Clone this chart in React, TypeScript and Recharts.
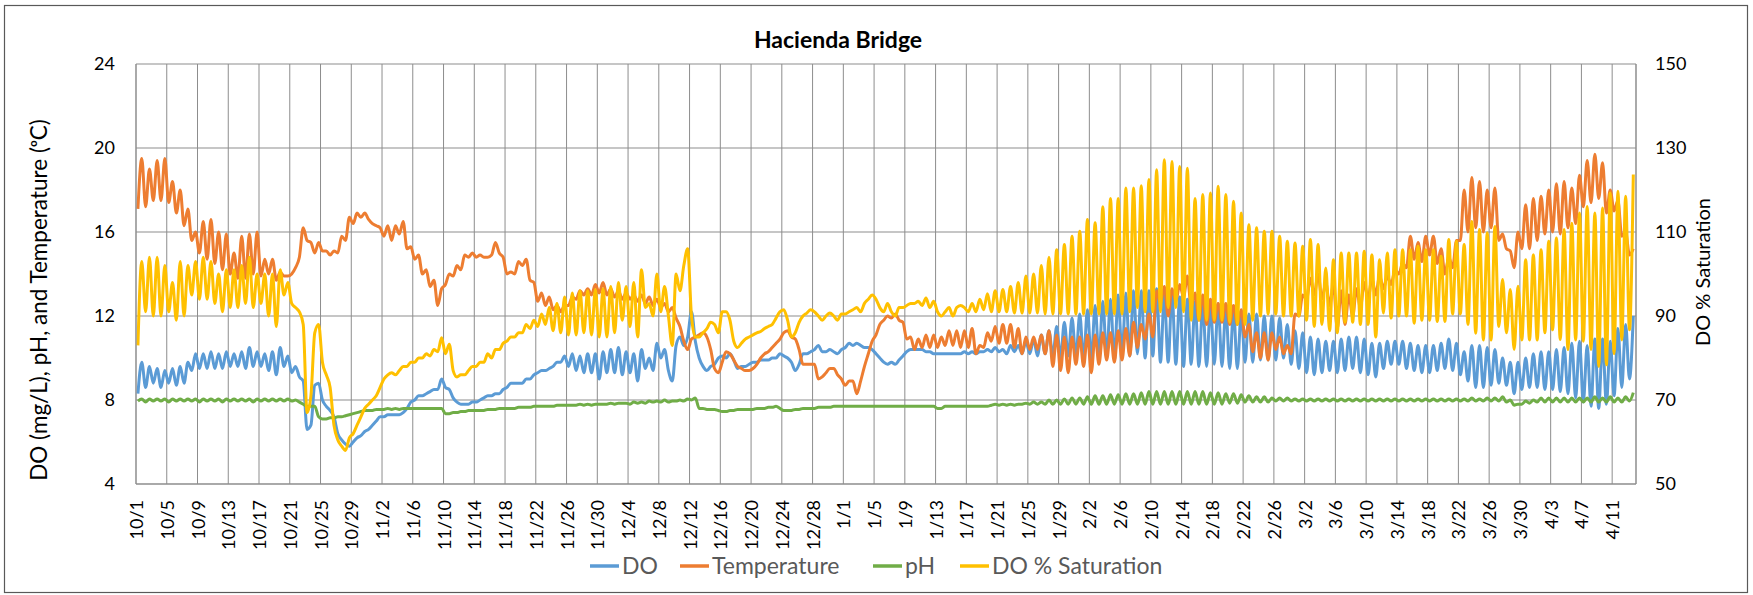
import { LineChart, Line, XAxis, YAxis, CartesianGrid } from 'recharts';

// x-axis category labels, one every 4 days starting 10/1
const xLabels = [
  '10/1', '10/5', '10/9', '10/13', '10/17', '10/21', '10/25', '10/29', '11/2', '11/6',
  '11/10', '11/14', '11/18', '11/22', '11/26', '11/30', '12/4', '12/8', '12/12', '12/16',
  '12/20', '12/24', '12/28', '1/1', '1/5', '1/9', '1/13', '1/17', '1/21', '1/25',
  '1/29', '2/2', '2/6', '2/10', '2/14', '2/18', '2/22', '2/26', '3/2', '3/6',
  '3/10', '3/14', '3/18', '3/22', '3/26', '3/30', '4/3', '4/7', '4/11',
];
const leftTicks = [4, 8, 12, 16, 20, 24];
const rightTicks = [50, 70, 90, 110, 130, 150];

// daily readings, morning (AM) and afternoon (PM)
const doAM = [
  8.3, 8.6, 8.8, 8.6, 8.8, 8.7, 8.8, 9.4, 9.5, 9.5,
  9.5, 9.5, 9.6, 9.6, 9.5, 9.6, 9.6, 9.4, 9.2, 9.6,
  9.3, 9.1, 6.6, 8.7, 8.0, 7.5, 6.4, 5.9, 6.0, 6.3,
  6.6, 7.0, 7.2, 7.3, 7.3, 7.6, 8.0, 8.2, 8.4, 8.5,
  8.6, 8.1, 7.8, 7.8, 7.9, 8.1, 8.2, 8.3, 8.6, 8.8,
  8.8, 9.0, 9.3, 9.4, 9.6, 9.8, 9.6, 9.4, 9.3, 9.3,
  9.0, 9.3, 9.3, 9.2, 9.3, 8.9, 9.5, 9.4, 10.0, 9.4,
  10.6, 10.6, 12.2, 10.0, 9.4, 9.7, 10.1, 10.2, 9.5, 9.6,
  9.8, 9.9, 9.9, 10.0, 10.1, 9.8, 9.7, 10.2, 10.4, 10.3,
  10.4, 10.2, 10.5, 10.6, 10.6, 10.5, 10.2, 9.8, 9.8, 9.9,
  10.3, 10.4, 10.4, 10.3, 10.2, 10.2, 10.2, 10.2, 10.2, 10.2,
  10.3, 10.3, 10.3, 10.2, 10.3, 10.2, 10.2, 10.1, 10.2, 10.1,
  10.0, 10.1, 10.0, 9.9, 9.9, 10.0, 10.0, 9.9, 10.1, 10.1,
  10.2, 10.0, 10.1, 9.8, 9.8, 9.7, 9.6, 9.7, 9.6, 9.6,
  9.7, 9.6, 9.5, 9.5, 9.8, 9.8, 9.9, 9.9, 9.9, 10.0,
  9.7, 9.5, 9.3, 9.2, 9.3, 9.4, 9.3, 9.4, 9.5, 9.3,
  9.2, 9.1, 9.5, 9.7, 9.7, 9.5, 9.4, 9.3, 9.3, 9.4,
  9.5, 9.4, 9.2, 8.9, 8.6, 8.6, 8.7, 8.8, 8.7, 8.3,
  8.5, 8.6, 8.6, 8.5, 8.5, 8.4, 8.3, 8.1, 7.9, 7.7,
  7.6, 7.8, 8.2, 8.6, 9.0,
];
const doPM = [
  9.8, 9.6, 9.5, 9.4, 9.5, 9.6, 9.8, 10.2, 10.2, 10.3,
  10.2, 10.3, 10.2, 10.3, 10.5, 10.3, 10.2, 10.3, 10.5, 10.1,
  9.6, 8.9, 6.8, 8.8, 7.7, 7.2, 6.1, 5.8, 6.2, 6.5,
  6.8, 7.2, 7.3, 7.3, 7.4, 7.9, 8.2, 8.3, 8.5, 9.0,
  8.5, 7.9, 7.8, 7.9, 8.0, 8.2, 8.3, 8.5, 8.8, 8.8,
  9.0, 9.2, 9.4, 9.5, 9.8, 10.1, 10.2, 10.1, 10.2, 10.2,
  10.3, 10.4, 10.5, 10.3, 10.2, 10.4, 10.0, 10.7, 10.4, 8.9,
  11.0, 11.0, 10.8, 9.6, 9.6, 10.0, 10.0, 9.9, 9.6, 9.7,
  9.8, 9.9, 10.0, 10.2, 10.0, 9.4, 10.2, 10.3, 10.6, 10.3,
  10.3, 10.4, 10.7, 10.7, 10.5, 10.4, 10.0, 9.7, 9.7, 10.1,
  10.4, 10.4, 10.3, 10.2, 10.2, 10.2, 10.2, 10.3, 10.3, 10.3,
  10.4, 10.5, 10.4, 10.6, 10.6, 10.8, 10.9, 11.1, 11.3, 11.5,
  11.7, 11.9, 12.1, 12.3, 12.5, 12.7, 12.8, 13.0, 13.1, 13.2,
  13.2, 13.2, 13.3, 13.0, 13.1, 12.9, 12.8, 12.7, 12.6, 12.5,
  12.6, 12.4, 12.3, 12.2, 12.1, 12.1, 12.0, 12.0, 11.9, 11.6,
  11.3, 11.2, 11.0, 10.9, 10.8, 10.8, 10.9, 11.0, 11.0, 10.9,
  10.7, 10.7, 10.8, 10.8, 10.8, 10.7, 10.6, 10.6, 10.6, 10.7,
  10.9, 10.7, 10.3, 10.6, 10.6, 10.5, 10.4, 10.0, 9.8, 9.8,
  10.0, 10.2, 10.3, 10.3, 10.4, 10.5, 10.7, 10.8, 10.6, 10.9,
  10.9, 10.8, 11.4, 11.6, 12.0,
];
const tempAM = [
  17.1, 17.2, 17.5, 17.5, 17.4, 16.9, 16.3, 15.6, 15.0, 14.7,
  14.5, 14.2, 14.0, 13.8, 13.8, 14.0, 13.9, 14.0, 13.7, 13.9,
  14.0, 14.8, 15.6, 15.0, 15.1, 14.9, 15.0, 15.6, 16.4, 16.7,
  16.6, 16.3, 15.8, 15.6, 15.9, 15.2, 14.7, 14.0, 13.4, 12.5,
  13.5, 13.9, 14.2, 14.8, 14.8, 14.8, 14.9, 15.0, 14.0, 14.0,
  14.4, 13.7, 12.7, 12.5, 12.3, 12.2, 12.5, 12.8, 13.0, 13.0,
  13.1, 13.0, 12.9, 12.8, 12.8, 12.7, 12.6, 12.5, 12.4, 12.2,
  11.9, 10.8, 10.9, 11.1, 11.0, 9.5, 9.8, 10.2, 9.6, 9.4,
  9.5, 10.0, 10.3, 10.7, 11.2, 11.0, 10.4, 9.7, 9.7, 9.1,
  9.5, 9.2, 8.7, 8.9, 8.9, 10.2, 11.1, 11.8, 11.9, 11.8,
  10.9, 10.4, 10.5, 10.5, 10.5, 10.6, 10.6, 10.5, 10.5, 10.2,
  10.5, 10.8, 10.7, 10.7, 10.5, 10.2, 10.4, 10.4, 10.2, 9.6,
  9.4, 9.3, 9.7, 9.6, 9.3, 9.7, 9.9, 9.8, 9.9, 10.1,
  10.5, 10.9, 11.0, 12.6, 12.0, 12.7, 12.9, 12.4, 11.8, 11.6,
  11.7, 11.7, 11.6, 11.6, 11.0, 10.3, 10.0, 9.9, 10.4, 10.2,
  10.2, 12.0, 12.8, 13.0, 12.8, 12.5, 11.4, 11.6, 12.0, 12.4,
  12.8, 13.0, 13.3, 13.5, 14.0, 14.3, 14.7, 14.6, 14.9, 14.5,
  14.0, 14.3, 15.6, 16.0, 16.2, 16.0, 16.2, 15.6, 15.2, 14.3,
  15.2, 15.2, 15.6, 15.9, 16.0, 15.9, 16.2, 16.4, 17.2, 17.4,
  17.6, 16.9, 17.0, 15.8, 14.9,
];
const tempPM = [
  19.5, 19.0, 19.4, 19.5, 18.4, 18.0, 17.1, 16.0, 16.5, 16.6,
  16.0, 15.9, 15.0, 15.8, 15.9, 16.0, 14.7, 14.7, 14.1, 13.9,
  14.3, 16.2, 15.5, 15.5, 15.1, 15.1, 15.8, 16.7, 16.9, 16.9,
  16.4, 16.2, 16.3, 16.3, 16.5, 15.3, 14.9, 14.2, 13.7, 13.3,
  14.0, 14.4, 14.9, 15.0, 14.9, 14.8, 15.5, 14.8, 14.1, 14.6,
  14.7, 13.6, 13.1, 12.9, 12.5, 12.5, 12.9, 13.2, 13.3, 13.5,
  13.6, 13.3, 13.2, 13.1, 13.0, 13.0, 12.9, 12.8, 12.6, 12.4,
  11.5, 10.4, 11.0, 11.2, 10.4, 9.3, 10.3, 9.9, 9.5, 9.4,
  9.7, 10.2, 10.5, 10.9, 11.3, 10.9, 9.7, 9.7, 9.0, 9.3,
  9.5, 9.0, 8.9, 8.3, 9.6, 10.8, 11.6, 12.0, 12.1, 11.7,
  11.0, 10.9, 11.1, 11.1, 11.0, 11.3, 11.3, 11.3, 11.4, 10.6,
  11.2, 11.5, 11.6, 11.6, 11.4, 11.0, 11.0, 11.1, 11.3, 11.1,
  11.0, 11.0, 11.0, 11.1, 11.1, 11.2, 11.2, 11.3, 11.4, 11.7,
  11.6, 12.1, 13.2, 13.4, 13.3, 13.5, 13.9, 13.1, 13.0, 12.8,
  12.6, 12.6, 12.5, 12.3, 11.6, 11.2, 11.2, 11.2, 11.0, 10.6,
  12.1, 13.0, 13.8, 14.0, 13.6, 13.5, 13.2, 13.0, 13.3, 13.6,
  13.8, 13.9, 13.9, 14.2, 14.5, 15.8, 15.5, 15.8, 15.8, 15.2,
  14.8, 15.6, 18.0, 18.6, 18.4, 18.0, 18.1, 15.9, 15.1, 16.0,
  17.3, 17.6, 17.7, 18.0, 18.3, 18.4, 18.1, 18.7, 19.4, 19.7,
  19.3, 18.0, 17.5, 16.0, 15.2,
];
const phAM = [
  7.95, 7.9, 7.95, 7.95, 7.9, 7.95, 7.95, 7.95, 7.9, 7.95,
  7.95, 7.9, 7.95, 7.95, 7.95, 7.9, 7.95, 7.95, 7.95, 7.95,
  7.95, 7.9, 7.7, 7.7, 7.1, 7.15, 7.2, 7.25, 7.35, 7.45,
  7.5, 7.55, 7.55, 7.55, 7.55, 7.6, 7.6, 7.6, 7.6, 7.6,
  7.35, 7.4, 7.45, 7.5, 7.5, 7.5, 7.55, 7.6, 7.6, 7.6,
  7.65, 7.65, 7.7, 7.7, 7.7, 7.75, 7.75, 7.75, 7.75, 7.75,
  7.8, 7.8, 7.8, 7.85, 7.8, 7.85, 7.85, 7.9, 7.9, 7.9,
  7.95, 7.95, 8.0, 7.6, 7.55, 7.55, 7.45, 7.5, 7.55, 7.55,
  7.55, 7.6, 7.65, 7.7, 7.5, 7.5, 7.55, 7.6, 7.6, 7.65,
  7.65, 7.7, 7.7, 7.7, 7.7, 7.7, 7.7, 7.7, 7.7, 7.7,
  7.7, 7.7, 7.7, 7.7, 7.6, 7.7, 7.7, 7.7, 7.7, 7.7,
  7.7, 7.75, 7.75, 7.75, 7.75, 7.8, 7.8, 7.8, 7.8, 7.8,
  7.8, 7.8, 7.8, 7.8, 7.8, 7.8, 7.8, 7.8, 7.8, 7.8,
  7.8, 7.8, 7.8, 7.8, 7.8, 7.8, 7.8, 7.8, 7.8, 7.8,
  7.8, 7.8, 7.85, 7.85, 7.9, 7.9, 7.9, 7.9, 7.95, 7.95,
  7.95, 7.95, 7.95, 7.95, 7.95, 7.95, 7.95, 7.95, 7.95, 7.95,
  7.95, 7.95, 7.95, 7.95, 7.95, 7.95, 7.95, 7.95, 7.95, 7.95,
  7.95, 7.95, 7.95, 7.95, 7.95, 7.95, 7.95, 7.95, 7.9, 7.75,
  7.8, 7.85, 7.9, 7.9, 7.9, 7.9, 7.9, 7.9, 7.9, 7.9,
  7.9, 7.9, 7.9, 7.9, 7.95,
];
const phPM = [
  8.05, 8.05, 8.05, 8.05, 8.05, 8.05, 8.05, 8.05, 8.05, 8.05,
  8.05, 8.05, 8.05, 8.05, 8.05, 8.05, 8.05, 8.05, 8.05, 8.05,
  8.0, 7.8, 7.7, 7.2, 7.1, 7.15, 7.2, 7.3, 7.4, 7.5,
  7.5, 7.55, 7.6, 7.6, 7.6, 7.6, 7.6, 7.6, 7.6, 7.6,
  7.35, 7.4, 7.45, 7.5, 7.5, 7.55, 7.55, 7.6, 7.6, 7.65,
  7.65, 7.7, 7.7, 7.7, 7.75, 7.75, 7.75, 7.8, 7.8, 7.8,
  7.8, 7.85, 7.85, 7.85, 7.9, 7.9, 7.95, 7.95, 8.0, 7.95,
  8.0, 8.05, 8.1, 7.6, 7.55, 7.5, 7.45, 7.5, 7.55, 7.55,
  7.6, 7.6, 7.65, 7.6, 7.5, 7.55, 7.6, 7.6, 7.65, 7.65,
  7.7, 7.7, 7.7, 7.7, 7.7, 7.7, 7.7, 7.7, 7.7, 7.7,
  7.7, 7.7, 7.7, 7.7, 7.6, 7.7, 7.7, 7.7, 7.7, 7.7,
  7.7, 7.8, 7.8, 7.8, 7.8, 7.85, 7.9, 7.9, 8.0, 8.0,
  8.05, 8.1, 8.1, 8.15, 8.2, 8.2, 8.25, 8.25, 8.3, 8.3,
  8.35, 8.4, 8.4, 8.4, 8.4, 8.4, 8.4, 8.4, 8.4, 8.35,
  8.35, 8.3, 8.3, 8.25, 8.2, 8.15, 8.15, 8.1, 8.1, 8.1,
  8.05, 8.05, 8.05, 8.05, 8.05, 8.05, 8.05, 8.05, 8.05, 8.05,
  8.05, 8.05, 8.05, 8.05, 8.05, 8.05, 8.05, 8.05, 8.05, 8.05,
  8.05, 8.05, 8.05, 8.1, 8.05, 8.1, 8.1, 8.15, 8.0, 7.8,
  7.95, 8.0, 8.1, 8.1, 8.1, 8.1, 8.1, 8.1, 8.1, 8.15,
  8.1, 8.15, 8.1, 8.15, 8.35,
];
const satAM = [
  83, 91, 90, 90, 91, 89, 90, 95, 94, 94,
  93, 91, 92, 92, 93, 92, 93, 90, 87.5, 95,
  93, 91, 67, 86, 79, 73, 60.5, 58, 62, 66,
  69, 71, 75, 76.5, 77, 78, 79, 80, 80.5, 81.5,
  81, 77, 76, 77, 78, 79, 80, 82, 84, 85,
  86, 87, 87.5, 88, 86.5, 86, 85.5, 85.5, 86, 85.5,
  85, 85, 86, 89, 87.5, 85, 92, 90, 91, 90,
  100, 102, 90, 85, 87, 88, 91, 89, 82.5, 84.5,
  85.5, 86.3, 87.5, 89.5, 91.5, 85, 88.5, 90.7, 91, 89,
  90.7, 89, 90.5, 91.5, 91, 94, 94, 91, 91, 92,
  92.5, 93, 92.5, 92, 91, 91, 90, 92.5, 91, 91,
  91.5, 91, 91, 91, 90.7, 90.7, 90.7, 90.7, 90.5, 90.5,
  90.5, 90.5, 90.5, 90.5, 90.5, 90.5, 90.5, 90.5, 90.5, 91,
  92, 91, 91, 91, 92, 92, 91, 89, 89, 89,
  89, 89, 88.5, 88, 88, 89, 90, 90.5, 90.5, 90,
  90, 90, 89, 87.5, 88, 86.5, 86, 88.5, 88.5, 88,
  88, 85, 90.7, 89.5, 90, 90, 88.3, 89, 89, 88.7,
  88.7, 90.5, 90.5, 88, 85.9, 84.3, 84.3, 87.5, 86, 82,
  84.3, 84.3, 84.3, 86, 86.7, 84.4, 82, 84.3, 84, 82,
  78, 78.4, 81, 84.3, 86.7,
];
const satPM = [
  103, 104, 104, 102, 98, 103, 102, 103, 104, 103,
  100, 101, 101, 102, 104, 100, 100, 100, 101, 98,
  92, 88, 71, 88, 76, 64, 59, 61, 64, 68,
  70, 73, 76, 76, 78, 79, 80, 81, 82, 84.8,
  83.3, 75.5, 76, 78, 79, 81, 82, 83.5, 85, 86,
  88, 89, 90.5, 92, 93, 94.5, 95.5, 96, 96, 96.3,
  96.5, 97, 98, 97, 98, 101, 93, 100, 97, 83,
  96, 106, 85, 86, 88.5, 86, 91, 84, 83.5, 85,
  86, 87, 88, 91, 89, 86, 90, 91.5, 90, 90,
  90, 90.5, 91, 92, 93, 95, 92, 93, 90, 92,
  93, 93.5, 94.3, 93.5, 90, 92, 92, 92, 93, 94,
  95.3, 96, 96.3, 97, 98, 99.5, 100, 102, 104, 105.8,
  107, 109, 110.2, 113, 112.2, 116, 118, 118, 120.5, 120.5,
  121, 122.5, 124.8, 127.2, 126.8, 125.6, 125.2, 118, 118.9, 119.3,
  120.9, 118.9, 117.3, 114.5, 111.7, 111, 110.2, 110.2, 109, 107.8,
  107.4, 106.6, 108.2, 107, 101.4, 103.4, 105, 105, 105, 105.4,
  104.6, 103.4, 105, 105.8, 105.8, 105.8, 106.6, 105.8, 105.8, 104.2,
  108.2, 107.8, 107, 112.5, 110.6, 109.8, 111.3, 98.7, 96.3, 97.1,
  103.4, 104.6, 105.8, 107.8, 108.6, 110.6, 112.1, 114.5, 116.1, 114.5,
  115.7, 119.3, 119.7, 118.5, 123.7,
];

const series = [
  { key: 'do', name: 'DO', color: '#5B9BD5', axis: 'left' },
  { key: 'temp', name: 'Temperature', color: '#ED7D31', axis: 'left' },
  { key: 'ph', name: 'pH', color: '#70AD47', axis: 'left' },
  { key: 'sat', name: 'DO % Saturation', color: '#FFC000', axis: 'right' },
];

const rows = doAM.flatMap((_, d) => [
  { t: d + 0.25, do: doAM[d], temp: tempAM[d], ph: phAM[d], sat: satAM[d] },
  { t: d + 0.75, do: doPM[d], temp: tempPM[d], ph: phPM[d], sat: satPM[d] },
]);
const xTicks = xLabels.map((_, i) => i * 4);

const FONT = "Lato, 'Open Sans', sans-serif";
const GRID = '#8d8d8d';

const XTick = ({ x, y, payload }: any) => (
  <text
    transform={`translate(${x},${y}) rotate(-90)`}
    textAnchor="end"
    dominantBaseline="central"
    fontSize={18}
    fill="#000"
  >
    {xLabels[Math.round(payload.value / 4)]}
  </text>
);

const legendPos = [590, 680, 873, 960];

export default function App() {
  return (
    <div style={{ position: 'absolute', left: 0, top: 0, width: 1753, height: 595, background: '#fff', fontFamily: FONT }}>
      <LineChart width={1753} height={595} data={rows} margin={{ top: 64, right: 0, bottom: 0, left: 0 }}>
        <CartesianGrid stroke={GRID} strokeWidth={1} />
        <XAxis
          dataKey="t"
          type="number"
          domain={[0, 195.1]}
          ticks={xTicks}
          interval={0}
          height={111}
          tickLine={false}
          tickSize={0}
          tickMargin={16}
          axisLine={{ stroke: GRID }}
          tick={<XTick />}
        />
        <YAxis
          domain={[4, 24]}
          ticks={leftTicks}
          width={136}
          tickLine={false}
          tickSize={0}
          tickMargin={21}
          axisLine={{ stroke: GRID }}
          tick={{ fontSize: 18, fill: '#000' }}
          interval={0}
        />
        <YAxis
          yAxisId="right"
          orientation="right"
          domain={[50, 150]}
          ticks={rightTicks}
          width={117}
          tickLine={false}
          tickSize={0}
          tickMargin={19}
          axisLine={{ stroke: GRID }}
          tick={{ fontSize: 18, fill: '#000' }}
          interval={0}
        />
        {series.map((s) => (
          <Line
            key={s.key}
            yAxisId={s.axis === 'right' ? 'right' : 0}
            type="monotone"
            dataKey={s.key}
            name={s.name}
            stroke={s.color}
            strokeWidth={3}
            dot={false}
            activeDot={false}
            isAnimationActive={false}
          />
        ))}
      </LineChart>
      <svg width={1753} height={595} style={{ position: 'absolute', left: 0, top: 0, pointerEvents: 'none' }}>
        <rect x={4.5} y={5.5} width={1743} height={587} fill="none" stroke="#595959" strokeWidth={1.2} />
        <text x={838} y={48} textAnchor="middle" fontSize={23} fontWeight="bold" fill="#000">
          Hacienda Bridge
        </text>
        <text transform="translate(47,300) rotate(-90)" textAnchor="middle" fontSize={22.5} fill="#000">
          DO (mg/L), pH, and Temperature (ᵒC)
        </text>
        <text transform="translate(1710,272) rotate(-90)" textAnchor="middle" fontSize={20} fill="#000">
          DO % Saturation
        </text>
        {series.map((s, i) => (
          <g key={s.key}>
            <line x1={legendPos[i]} x2={legendPos[i] + 29} y1={566} y2={566} stroke={s.color} strokeWidth={3.5} />
            <text x={legendPos[i] + 32} y={574} fontSize={23} fill="#595959">
              {s.name}
            </text>
          </g>
        ))}
      </svg>
    </div>
  );
}
